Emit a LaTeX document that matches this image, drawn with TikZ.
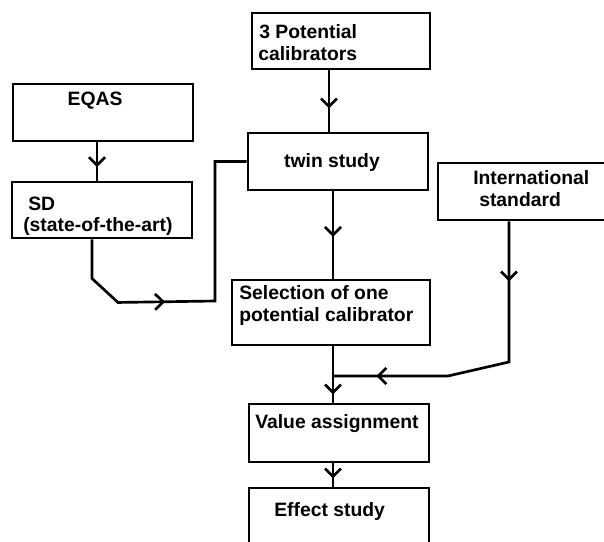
\documentclass[tikz,border=0pt]{standalone}
\usepackage{fontspec}
\setmainfont{Liberation Sans}
\usetikzlibrary{arrows.meta,decorations.markings,fit}
\begin{document}
\begin{tikzpicture}[x=0.75pt,y=-0.75pt,
  box/.style={draw,line width=2.2pt,inner sep=0pt},
  lbl/.style={font=\fontsize{14.5}{16.5}\selectfont\bfseries,inner sep=0pt},
  conn/.style={line width=2pt},
  barbtip/.tip={Straight Barb[length=6pt,width=12pt]},
  arrowat/.style={postaction={decorate},decoration={markings,mark=at position #1 with {\arrow{barbtip}}}},
  arrowtwo/.style 2 args={postaction={decorate},decoration={markings,mark=at position #1 with {\arrow{barbtip}},mark=at position #2 with {\arrow{barbtip}}}}
]
\useasboundingbox (0,0) rectangle (604,542);
\clip (0,0) rectangle (604,542);

% boxes
\node[box,fit={(252,13) (430,69)}] (pot) {};
\node[box,fit={(13,84) (193,141)}] (eqas) {};
\node[box,fit={(248,133) (428,190)}] (twin) {};
\node[box,fit={(12,182) (192,238)}] (sd) {};
\node[box,fit={(438,163) (640,220)}] (intl) {};
\node[box,fit={(232,280) (430,345)}] (sel) {};
\node[box,fit={(249,404) (429,462)}] (val) {};
\node[box,fit={(249,488) (429,590)}] (eff) {};

% texts
\node[lbl,anchor=base west] (potA) at (259,39) {3 Potential};
\node[lbl,anchor=base west] (potB) at (258,61) {calibrators};
\node[lbl,anchor=base] (twinT) at (332,167) {twin study};
\node[lbl,anchor=base] (eqasT) at (95,106) {EQAS};
\node[lbl,anchor=base west] (sdA) at (28,210) {SD};
\node[lbl,anchor=base west] (sdB) at (23,231) {(state-of-the-art)};
\node[lbl,anchor=base west] (intlA) at (473,185) {International};
\node[lbl,anchor=base west] (intlB) at (479,206) {standard};
\node[lbl,anchor=base west] (selA) at (239,299) {Selection of one};
\node[lbl,anchor=base west] (selB) at (239,321) {potential calibrator};
\node[lbl,anchor=base west] (valT) at (255,428) {Value assignment};
\node[lbl,anchor=base west] (effT) at (274,516) {Effect study};

% guide coordinates
\coordinate (xa) at (329,0);
\coordinate (xb) at (333,0);
\coordinate (xc) at (97,0);
\coordinate (xd) at (92,0);
\coordinate (xe) at (509,0);
\coordinate (merge) at (333,376);

% connectors
\draw[conn,arrowat=28.5pt] (pot.south -| xa) -- (twin.north -| xa);
\draw[conn,arrowat=18.5pt] (eqas.south -| xc) -- (sd.north -| xc);
\draw[conn,arrowat=34pt] (twin.south -| xb) -- (sel.north -| xb);
\draw[conn,arrowat=91pt] (sd.south -| xd) -- ++(0,39) -- ++(26,24) -- (215,301) |- (twin.west);
\draw[conn,arrowtwo={45pt}{206pt}] (intl.south -| xe) -- (509,362) -- (448,376) -- (merge);
\draw[conn,arrowat=36pt] (sel.south -| xb) -- (val.north -| xb);
\draw[conn,arrowat=11.25pt] (val.south -| xb) -- (eff.north -| xb);
\end{tikzpicture}
\end{document}
